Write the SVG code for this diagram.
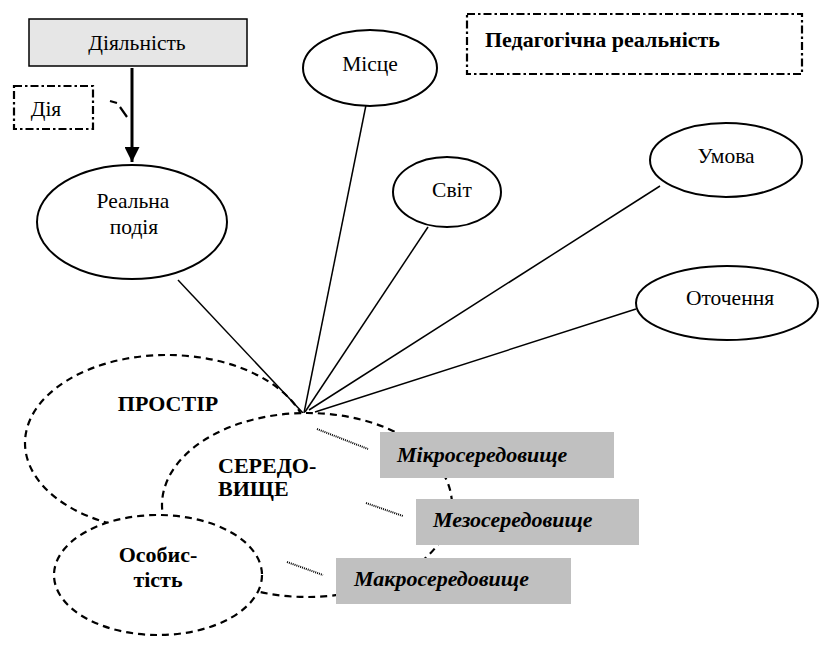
<svg xmlns="http://www.w3.org/2000/svg" width="826" height="646" viewBox="0 0 826 646">
<style>
text{font-family:'Liberation Serif','DejaVu Serif',serif;font-size:21.5px;fill:#000}
.b{font-weight:bold;font-size:22px}
.bi{font-weight:bold;font-style:italic;font-size:22px}
.node{fill:#fff;stroke:#000;stroke-width:2}
.dash{fill:#fff;stroke:#000;stroke-width:2.2;stroke-dasharray:7 5}
.dashdot{fill:#fff;stroke:#000;stroke-width:2.2;stroke-dasharray:8 3 2.5 3}
.grey{fill:#c0c0c0;stroke:none}
.ln{stroke:#000;stroke-width:1.5;fill:none}
.dot{stroke:#000;stroke-width:2;stroke-dasharray:1 1;fill:none}
</style>
<defs>
<marker id="ah" viewBox="0 0 10 10" refX="10" refY="5" markerWidth="5" markerHeight="5" orient="auto" markerUnits="strokeWidth">
<path d="M0,0 L10,5 L0,10 z" fill="#000"/>
</marker>
</defs>
<rect width="826" height="646" fill="#fff"/>

<g id="prostir"><ellipse class="dash" cx="167" cy="443" rx="142" ry="88"/><text class="b" x="168" y="411" text-anchor="middle">ПРОСТІР</text></g>

<g id="connectors">
<line class="ln" x1="178" y1="280" x2="303" y2="413"/>
<line class="ln" x1="366" y1="105" x2="304" y2="413"/>
<line class="ln" x1="428" y1="227" x2="305" y2="412"/>
<line class="ln" x1="660" y1="186" x2="309" y2="410"/>
<line class="ln" x1="636" y1="309" x2="315" y2="412"/>
<line x1="132" y1="68" x2="132" y2="162" stroke="#000" stroke-width="3" marker-end="url(#ah)"/>
<path d="M110,101 L117,103 M120,107 L127,117" stroke="#000" stroke-width="2.2" fill="none"/>
</g>

<g id="seredovyshche"><ellipse class="dash" cx="307" cy="505" rx="145" ry="92"/><text class="b" x="218" y="473">СЕРЕДО-</text><text class="b" x="218" y="496">ВИЩЕ</text></g>
<g id="osobystist"><ellipse class="dash" cx="158" cy="575" rx="104" ry="60"/><text class="b" x="158" y="562" text-anchor="middle">Особис-</text><text class="b" x="158" y="587" text-anchor="middle">тість</text></g>

<g id="diyalnist"><rect x="29" y="19" width="218" height="47" fill="#e6e6e6" stroke="#000" stroke-width="1.5"/><text x="137" y="50" text-anchor="middle">Діяльність</text></g>
<g id="diya"><rect class="dashdot" x="14" y="86" width="79" height="43"/><text x="46" y="116" text-anchor="middle">Дія</text></g>
<g id="ped"><rect class="dashdot" x="467" y="14" width="335" height="60"/><text class="b" x="485" y="47">Педагогічна реальність</text></g>
<g id="realna"><ellipse class="node" cx="132" cy="222" rx="95" ry="57"/><text x="133" y="208" text-anchor="middle">Реальна</text><text x="134" y="234" text-anchor="middle">подія</text></g>
<g id="mistse"><ellipse class="node" cx="370" cy="68" rx="67" ry="38"/><text x="370" y="71" text-anchor="middle">Місце</text></g>
<g id="svit"><ellipse class="node" cx="447" cy="192" rx="54" ry="35"/><text x="452" y="197" text-anchor="middle">Світ</text></g>
<g id="umova"><ellipse class="node" cx="726" cy="160" rx="76" ry="37"/><text x="726" y="163" text-anchor="middle">Умова</text></g>
<g id="otochennia"><ellipse class="node" cx="727" cy="303" rx="91" ry="37"/><text x="730" y="305" text-anchor="middle">Оточення</text></g>

<g id="mikro"><rect class="grey" x="380" y="432" width="234" height="46"/><text class="bi" x="397" y="462">Мікросередовище</text></g>
<g id="mezo"><rect class="grey" x="416" y="499" width="223" height="46"/><text class="bi" x="433" y="527">Мезосередовище</text></g>
<g id="makro"><rect class="grey" x="336" y="558" width="235" height="46"/><text class="bi" x="354" y="586">Макросередовище</text></g>

<g id="dotted">
<line class="dot" x1="317" y1="429" x2="368" y2="449"/>
<line class="dot" x1="366" y1="503" x2="403" y2="516"/>
<line class="dot" x1="287" y1="562" x2="323" y2="575"/>
</g>
</svg>
